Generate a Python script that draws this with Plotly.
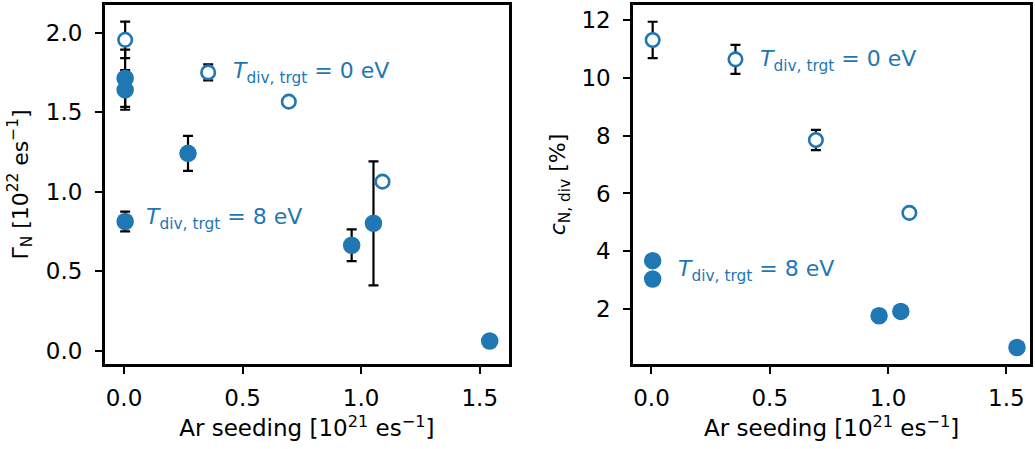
import plotly.graph_objects as go

BLUE = "#1f77b4"

# ---- data (left panel: Gamma_N) ----
open_x = [0.005, 0.355, 0.695, 1.09]
gam_open_y = [1.955, 1.75, 1.566, 1.063]
gam_open_err = [0.115, 0.05, 0.0, 0.0]

gam_fill_x = [0.005, 0.005, 0.005, 0.27, 0.96, 1.052, 1.542]
gam_fill_y = [1.713, 1.64, 0.812, 1.241, 0.663, 0.801, 0.061]
gam_fill_err = [0.18, 0.125, 0.062, 0.11, 0.1, 0.39, 0.0]

# ---- data (right panel: c_N,div) ----
c_open_y = [11.31, 10.64, 7.85, 5.33]
c_open_err = [0.63, 0.5, 0.35, 0.0]

c_fill_x = [0.005, 0.005, 0.962, 1.054, 1.545]
c_fill_y = [3.675, 3.04, 1.77, 1.92, 0.67]

x_ticks = [0.0, 0.5, 1.0, 1.5]
gam_ticks = [0.0, 0.5, 1.0, 1.5, 2.0]
c_ticks = [2, 4, 6, 8, 10, 12]

FONT = "DejaVu Sans"
FS = 22
TFS = 23
XFS = 23

fig = go.Figure()


def err(arr):
    return dict(type="data", array=arr, visible=True, color="black",
                thickness=2.2, width=5)


# left panel
fig.add_trace(go.Scatter(x=gam_fill_x, y=gam_fill_y, mode="markers",
                         marker=dict(size=17.5, color=BLUE, line=dict(width=0)),
                         error_y=err(gam_fill_err), xaxis="x", yaxis="y",
                         showlegend=False))
fig.add_trace(go.Scatter(x=open_x, y=gam_open_y, mode="markers",
                         marker=dict(size=13.5, color="white",
                                     line=dict(width=2.6, color=BLUE)),
                         error_y=err(gam_open_err), xaxis="x", yaxis="y",
                         showlegend=False))
# right panel
fig.add_trace(go.Scatter(x=c_fill_x, y=c_fill_y, mode="markers",
                         marker=dict(size=17.5, color=BLUE, line=dict(width=0)),
                         xaxis="x2", yaxis="y2", showlegend=False))
fig.add_trace(go.Scatter(x=open_x, y=c_open_y, mode="markers",
                         marker=dict(size=13.5, color="white",
                                     line=dict(width=2.6, color=BLUE)),
                         error_y=err(c_open_err), xaxis="x2", yaxis="y2",
                         showlegend=False))

lab0 = "<i>T</i><sub>div, trgt</sub> = 0 eV"
lab8 = "<i>T</i><sub>div, trgt</sub> = 8 eV"
ann = [
    dict(x=0.45, y=1.75, xref="x", yref="y", text=lab0),
    dict(x=0.085, y=0.83, xref="x", yref="y", text=lab8),
    dict(x=0.45, y=10.6, xref="x2", yref="y2", text=lab0),
    dict(x=0.102, y=3.35, xref="x2", yref="y2", text=lab8),
]
annotations = []
for a in ann:
    a.update(showarrow=False, xanchor="left", yanchor="middle",
             font=dict(family=FONT, size=FS, color=BLUE))
    annotations.append(a)

axis_common = dict(showline=True, mirror=True, linewidth=3, linecolor="black",
                   ticks="outside", ticklen=7, tickwidth=2, tickcolor="black",
                   showgrid=False, zeroline=False,
                   tickfont=dict(family=FONT, size=TFS, color="black"))

xtitle = "Ar seeding [10<sup>21</sup> es<sup>−1</sup>]"

fig.update_layout(
    width=1035, height=449,
    margin=dict(l=105, r=2, t=5, b=85),
    paper_bgcolor="white", plot_bgcolor="white",
    font=dict(family=FONT, size=FS, color="black"),
    xaxis=dict(domain=[0, 0.4364], range=[-0.080, 1.622], tickvals=x_ticks,
               tickformat=".1f", ticklabelstandoff=4,
               title=dict(text=xtitle, font=dict(family=FONT, size=XFS), standoff=11),
               anchor="y", **axis_common),
    yaxis=dict(range=[-0.084, 2.174], tickvals=gam_ticks, tickformat=".1f",
               ticklabelstandoff=8,
               title=dict(text="Γ<sub>N</sub> [10<sup>22</sup> es<sup>−1</sup>]",
                          font=dict(family=FONT, size=FS), standoff=12),
               anchor="x", **axis_common),
    xaxis2=dict(domain=[0.5711, 1.0], range=[-0.077, 1.600], tickvals=x_ticks,
                tickformat=".1f", ticklabelstandoff=4,
                title=dict(text=xtitle, font=dict(family=FONT, size=XFS), standoff=11),
                anchor="y2", **axis_common),
    yaxis2=dict(range=[0.10, 12.52], tickvals=c_ticks, ticklabelstandoff=8,
                title=dict(text="<i>c</i><sub>N, div</sub> [%]",
                           font=dict(family=FONT, size=FS), standoff=10),
                anchor="x2", **axis_common),
    annotations=annotations,
)

fig.write_html("out.html")
